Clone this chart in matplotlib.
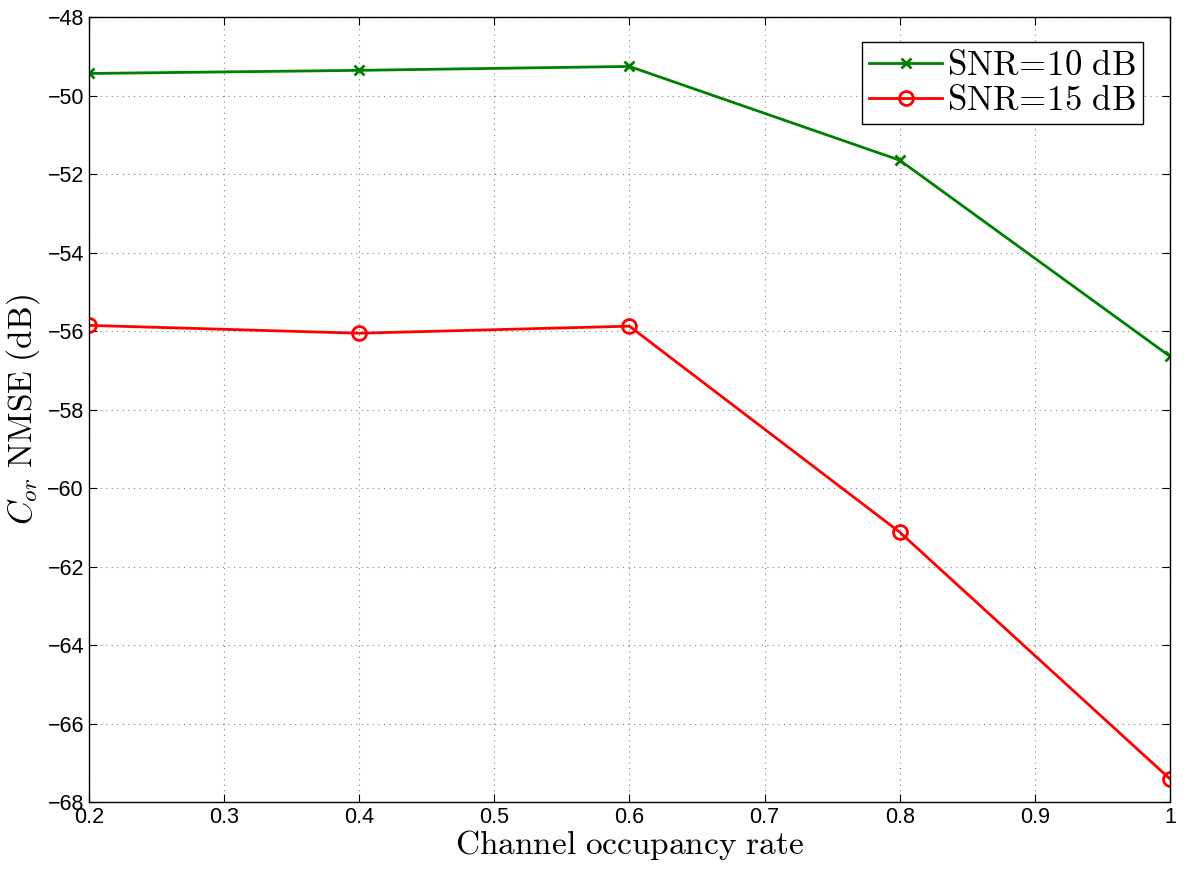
import numpy as np
import matplotlib.pyplot as plt

plt.rcParams['mathtext.fontset'] = 'cm'
plt.rcParams['font.family'] = ['Liberation Sans', 'DejaVu Sans']

# data
occupancy = [0.2, 0.4, 0.6, 0.8, 1.0]
snr10 = [-49.43, -49.35, -49.25, -51.64, -56.64]
snr15 = [-55.85, -56.05, -55.87, -61.12, -67.41]

xticks = [0.2, 0.3, 0.4, 0.5, 0.6, 0.7, 0.8, 0.9, 1.0]
xticklabels = ['0.2', '0.3', '0.4', '0.5', '0.6', '0.7', '0.8', '0.9', '1']
yticks = list(range(-68, -47, 2))

fig = plt.figure(figsize=(12, 8.69), dpi=100)
ax = fig.add_axes([0.074, 0.077, 0.901, 0.903])

ax.plot(occupancy, snr10, color='#008000', marker='x', markersize=7,
        markeredgewidth=2, linewidth=2, label=r'$\mathrm{SNR\!=\!10\ dB}$')
ax.plot(occupancy, snr15, color='#ff0000', marker='o', markersize=10,
        markerfacecolor='none', markeredgewidth=2, linewidth=2,
        label=r'$\mathrm{SNR\!=\!15\ dB}$')

ax.set_xlim(0.2, 1.0)
ax.set_ylim(-68, -48)
ax.set_xticks(xticks)
ax.set_xticklabels(xticklabels)
ax.set_yticks(yticks)
ax.set_yticklabels([str(v).replace('-', '\u2212') for v in yticks])
ax.tick_params(direction='in', labelsize=15.5, length=6, top=True, right=True)
ax.grid(True, linestyle=(0, (1, 4)), color='#808080', linewidth=0.8)

for s in ax.spines.values():
    s.set_linewidth(1)

ax.set_xlabel(r'$\mathrm{Channel\ occupancy\ rate}$', fontsize=24, labelpad=0)
ax.set_ylabel(r'$C_{or}\ \mathrm{NMSE\ (dB)}$', fontsize=24, labelpad=4)

leg = ax.legend(loc='upper right', fontsize=25, fancybox=False, framealpha=1,
                edgecolor='black', borderpad=0.2, labelspacing=0.05,
                handlelength=2.1, handletextpad=0.15, borderaxespad=0,
                bbox_to_anchor=(0.975, 0.968))
leg.get_frame().set_linewidth(1)

fig.savefig('out.png', dpi=100)
